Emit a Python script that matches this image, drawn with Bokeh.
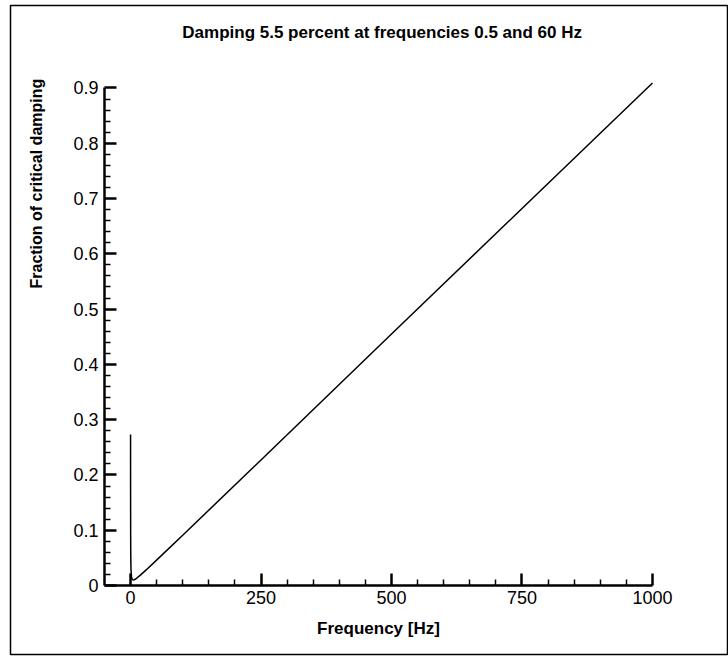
import math
from bokeh.plotting import figure
from bokeh.models import LinearAxis, FixedTicker, Label
from bokeh.embed import file_html
from bokeh.resources import INLINE

# ---- data ----
freq_hz = [0.1, 0.15, 0.2, 0.3, 0.5, 0.75, 1, 1.5, 2, 3, 5, 7.5, 10, 20, 30,
           60, 100, 250, 500, 750, 1000]
damping = [0.273, 0.182, 0.137, 0.091, 0.055, 0.037, 0.028, 0.020, 0.0155,
           0.0118, 0.0100, 0.0105, 0.0118, 0.0196, 0.0282, 0.055, 0.091,
           0.227, 0.455, 0.682, 0.909]

x_major = [0, 250, 500, 750, 1000]
x_minor = [50, 100, 150, 200, 300, 350, 400, 450, 550, 600, 650, 700,
           800, 850, 900, 950]
y_major = [0, 0.1, 0.2, 0.3, 0.4, 0.5, 0.6, 0.7, 0.8, 0.9]
y_minor = [0.02, 0.04, 0.06, 0.08, 0.12, 0.14, 0.16, 0.18, 0.22, 0.24, 0.26,
           0.28, 0.32, 0.34, 0.36, 0.38, 0.42, 0.44, 0.46, 0.48, 0.52, 0.54,
           0.56, 0.58, 0.62, 0.64, 0.66, 0.68, 0.72, 0.74, 0.76, 0.78, 0.82,
           0.84, 0.86, 0.88]

title_text = "Damping 5.5 percent at frequencies 0.5 and 60 Hz"
x_label = "Frequency [Hz]"
y_label = "Fraction of critical damping"

FONT = "Liberation Sans"

p = figure(width=728, height=656, output_backend="svg", toolbar_location=None,
           x_range=(-229.9, 1145.6), y_range=(-0.1248, 1.0492),
           x_axis_location=None, y_axis_location=None,
           min_border_left=10, min_border_top=5, min_border_right=0,
           min_border_bottom=2)
p.grid.visible = False
p.outline_line_color = "black"
p.outline_line_width = 1.5
p.background_fill_color = "white"
p.border_fill_color = "white"

def style_axis(ax):
    ax.axis_line_width = 2.5
    ax.axis_line_color = "black"
    ax.major_tick_in = 12
    ax.major_tick_out = 0
    ax.minor_tick_in = 6
    ax.minor_tick_out = 0
    ax.major_tick_line_width = 2.5
    ax.minor_tick_line_width = 1.5
    ax.major_tick_line_color = "black"
    ax.minor_tick_line_color = "black"
    ax.major_label_text_font = FONT
    ax.major_label_text_font_size = "18px"
    ax.major_label_text_color = "black"
    ax.axis_label_text_font = FONT
    ax.axis_label_text_font_style = "bold"
    ax.axis_label_text_font_size = "17px"
    ax.axis_label_text_color = "black"

xaxis = LinearAxis(fixed_location=0, bounds=(-50, 1000),
                   ticker=FixedTicker(ticks=x_major, minor_ticks=x_minor),
                   axis_label=x_label)
style_axis(xaxis)
xaxis.major_label_standoff = 5
xaxis.axis_label_standoff = 12
p.add_layout(xaxis, "below")

yaxis = LinearAxis(fixed_location=-50, bounds=(0, 0.9),
                   ticker=FixedTicker(ticks=y_major, minor_ticks=y_minor))
style_axis(yaxis)
yaxis.major_label_standoff = 6
yaxis.major_label_overrides = {0: "0"}
p.add_layout(yaxis, "left")

p.line(freq_hz, damping, line_color="black", line_width=1.5)

p.add_layout(Label(x=482, y=1.001, text=title_text, text_align="center",
                   text_baseline="middle", text_font=FONT,
                   text_font_style="bold", text_font_size="17px",
                   text_color="black"))
p.add_layout(Label(x=-180, y=0.727, text=y_label, angle=math.pi / 2,
                   text_align="center", text_baseline="middle",
                   text_font=FONT, text_font_style="bold",
                   text_font_size="16px", text_color="black"))

open("out.html", "w").write(file_html(p, INLINE))
